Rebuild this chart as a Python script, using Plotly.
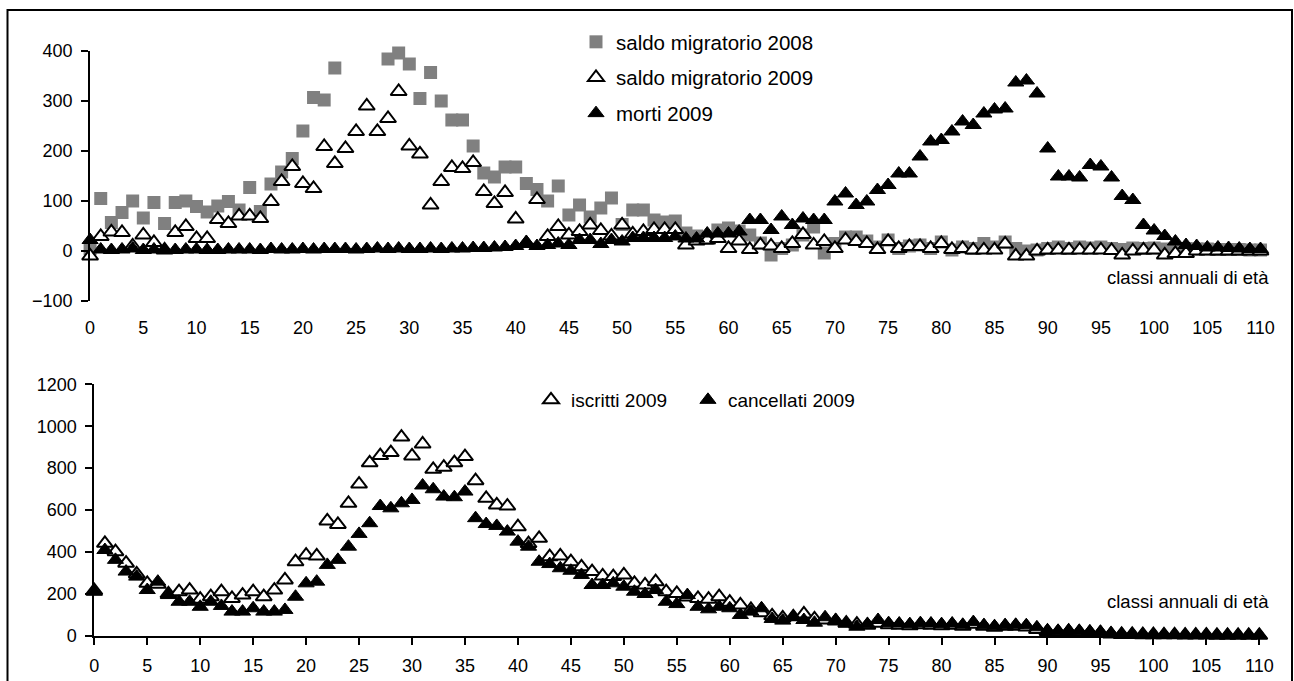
import plotly.graph_objects as go

W, H = 1294, 681

eta = list(range(0, 111))

# grafico superiore
saldo_2008 = [5, 105, 57, 77, 100, 66, 97, 55, 97, 100, 89, 78, 90, 99, 82, 127, 79, 134, 158, 185,
              240, 307, 302, 366, None, None, None, None, 384, 396, 374, 305, 357, 300, 262, 262, 210, 156, 148, 168,
              168, 135, 123, 100, 130, 72, 92, 68, 86, 106, 53, 82, 82, 62, 58, 60, 36, 30, 25, 42,
              46, 40, 32, 16, -8, 5, 12, 32, 48, -4, 15, 28, 28, 20, 8, 22, 5, 10, 12, 5,
              18, 2, 8, 5, 15, 8, 18, 5, 0, 2, 5, 8, 5, 8, 6, 8, 5, 3, 6, 5,
              6, 4, 5, 5, 4, 4, 3, 3, 3, 2, 2]
saldo_2009 = [-10, 29, 38, 37, 10, 32, 17, 2, 37, 49, 25, 25, 63, 55, 70, 70, 65, 99, 139, 169,
              135, 125, 209, 175, 205, 239, 290, 239, 265, 319, 210, 194, 92, 139, 167, 165, 177, 119, 95, 117,
              64, 15, 103, 29, 49, 32, 39, 52, 41, 30, 52, 34, 39, 43, 43, 43, 12, 20, 22, 25,
              5, 20, 3, 12, 10, 5, 15, 33, 12, 19, 5, 22, 19, 15, 3, 19, 5, 9, 9, 5,
              15, 3, 5, 2, 2, 2, 14, -10, -10, 0, 2, 2, 2, 2, 2, 2, 1, -8, 0, 2,
              2, -8, -5, -5, 0, 0, 0, 0, 0, 0, 0]
morti_2009 = [22, 3, 2, 3, 5, 2, 3, 2, 2, 3, 3, 2, 2, 3, 3, 3, 2, 4, 3, 3,
              4, 3, 4, 4, 4, 3, 4, 5, 4, 5, 4, 4, 5, 4, 5, 5, 6, 6, 7, 8,
              10, 18, 10, 12, 15, 12, 22, 22, 14, 22, 19, 26, 26, 26, 26, 29, 25, 25, 35, 35,
              35, 39, 62, 62, 42, 69, 52, 65, 62, 62, 99, 115, 92, 99, 122, 132, 155, 155, 189, 219,
              222, 239, 259, 252, 275, 283, 285, 337, 341, 315, 205, 149, 149, 147, 172, 169, 147, 110, 102, 52,
              41, 30, 19, 12, 10, 7, 7, 6, 5, 4, 4]

# grafico inferiore
iscritti_2009 = [215, 441, 401, 346, 295, 250, 245, 200, 210, 218, 174, 186, 210, 178, 194, 210, 186, 218, 266, 353,
                 385, 381, 548, 531, 632, 724, 825, 860, 874, 948, 858, 915, 794, 804, 826, 855, 740, 656, 624, 619,
                 520, 440, 465, 377, 381, 353, 329, 306, 285, 282, 290, 250, 242, 258, 210, 202, 185, 178, 174, 186,
                 160, 147, 125, 110, 95, 85, 90, 104, 80, 75, 70, 60, 55, 50, 60, 52, 50, 48, 52, 50,
                 48, 50, 45, 55, 45, 40, 45, 45, 42, 30, 20, 18, 20, 18, 15, 14, 8, 6, 6, 5,
                 5, 4, 4, 3, 3, 3, 2, 2, 2, 2, 2]
cancellati_2009 = [210, 409, 362, 306, 282, 218, 258, 194, 162, 162, 138, 162, 142, 115, 115, 131, 115, 115, 123, 186,
                   250, 258, 338, 362, 425, 486, 537, 619, 608, 632, 648, 717, 699, 664, 661, 688, 561, 533, 524, 497,
                   449, 425, 353, 342, 322, 310, 290, 242, 242, 250, 234, 210, 199, 218, 162, 151, 194, 138, 126, 138,
                   131, 99, 115, 131, 80, 72, 91, 75, 62, 88, 75, 59, 43, 55, 75, 60, 58, 55, 60, 58,
                   55, 58, 52, 65, 50, 45, 50, 52, 50, 40, 25, 22, 25, 22, 20, 18, 12, 8, 8, 6,
                   6, 5, 5, 4, 4, 4, 3, 3, 3, 3, 3]

tick_x = list(range(0, 111, 5))

FONT = "Liberation Sans, Arial, sans-serif"
open_tri = dict(symbol="triangle-up", size=14, color="white", line=dict(color="black", width=2))
full_tri = dict(symbol="triangle-up", size=14, color="black", line=dict(color="black", width=1))

fig = go.Figure()
fig.add_trace(go.Scatter(x=eta, y=saldo_2008, mode="markers", name="saldo migratorio 2008",
                         marker=dict(symbol="square", size=13, color="#808080"),
                         legend="legend", legendgroup="a", cliponaxis=False))
fig.add_trace(go.Scatter(x=eta, y=saldo_2009, mode="markers", name="saldo migratorio 2009",
                         marker=open_tri, legend="legend", legendgroup="b", cliponaxis=False))
fig.add_trace(go.Scatter(x=eta, y=morti_2009, mode="markers", name="morti 2009",
                         marker=full_tri, legend="legend", legendgroup="c", cliponaxis=False))
# spazi non separabili per distanziare le voci della legenda in basso
fig.add_trace(go.Scatter(x=eta, y=iscritti_2009, mode="markers", name="iscritti 2009\u00a0\u00a0\u00a0",
                         marker=open_tri, xaxis="x2", yaxis="y2", legend="legend2", cliponaxis=False))
fig.add_trace(go.Scatter(x=eta, y=cancellati_2009, mode="markers", name="cancellati 2009",
                         marker=full_tri, xaxis="x2", yaxis="y2", legend="legend2", cliponaxis=False))

def py(p):  # pixel dall'alto -> frazione paper
    return (H - p) / H

axis_common = dict(showgrid=False, zeroline=False, linecolor="black", linewidth=2,
                   tickcolor="black", tickwidth=2, ticklen=7, ticks="outside",
                   tickfont=dict(size=18, color="black"), automargin=False)
axis_noticklab = {k: v for k, v in axis_common.items() if k != "tickfont"}

fig.update_layout(
    width=W, height=H,
    margin=dict(l=0, r=0, t=0, b=0),
    paper_bgcolor="white", plot_bgcolor="white",
    font=dict(family=FONT, size=18, color="black"),
    showlegend=True,
    # top
    xaxis=dict(domain=[90.1 / W, 1260.5 / W], range=[0, 110], anchor="y",
               tickvals=tick_x, showline=False, showgrid=False, zeroline=False,
               ticks="outside", ticklen=10, tickcolor="rgba(0,0,0,0)",
               tickfont=dict(size=18, color="black"), automargin=False),
    xaxis3=dict(overlaying="x", anchor="free", position=py(251), range=[0, 110],
                tickvals=tick_x, showticklabels=False, showline=True, **axis_noticklab),
    yaxis=dict(domain=[py(301), py(51)], range=[-100, 400], anchor="x", dtick=100,
               showline=True, ticklabelstandoff=5, **axis_common),
    # bottom
    xaxis2=dict(domain=[94.3 / W, 1259.3 / W], range=[0, 110], anchor="y2",
                tickvals=tick_x, showline=True, ticklabelstandoff=6, **axis_common),
    yaxis2=dict(domain=[py(635.7), py(384.3)], range=[0, 1200], anchor="x2", dtick=200,
                showline=True, ticklabelstandoff=5, **axis_common),
    legend=dict(x=576 / W, y=py(22), xanchor="left", yanchor="top", bgcolor="rgba(0,0,0,0)",
                font=dict(size=20.5, color="black"), tracegroupgap=6, traceorder="grouped"),
    legend2=dict(orientation="h", x=531 / W, y=py(381), xanchor="left", yanchor="top",
                 bgcolor="rgba(0,0,0,0)", font=dict(size=19, color="black")),
    annotations=[
        dict(text="classi annuali di età", xref="paper", yref="paper", x=1271 / W, y=py(277),
             xanchor="right", yanchor="middle", showarrow=False, font=dict(size=18.5, color="black")),
        dict(text="classi annuali di età", xref="paper", yref="paper", x=1271 / W, y=py(601),
             xanchor="right", yanchor="middle", showarrow=False, font=dict(size=18.5, color="black")),
    ],
    shapes=[dict(type="rect", xref="paper", yref="paper", x0=7.5 / W, x1=1292 / W,
                 y0=-0.2, y1=py(10), line=dict(color="black", width=2))],
)

fig.write_html("out.html", config={"displayModeBar": False},
               post_script="document.body.style.margin='0';document.body.style.padding='0';"
                           "document.body.style.overflow='hidden';")
